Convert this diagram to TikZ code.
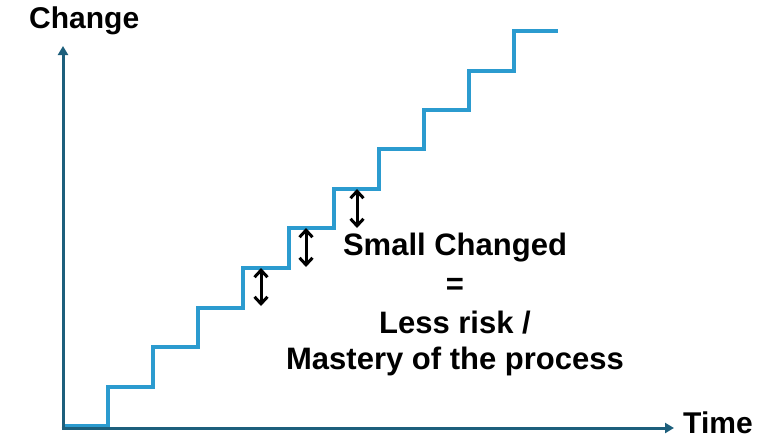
\documentclass[tikz,border=0pt]{standalone}
\usepackage{fontspec}
\setmainfont{Liberation Sans}
\usetikzlibrary{arrows.meta}
\definecolor{axiscol}{HTML}{1D5F7C}
\definecolor{stepcol}{HTML}{2B9BCF}
\tikzset{
  axisline/.style={draw=axiscol, line width=3pt, -{Triangle[length=9pt,width=10pt]}},
  stairline/.style={draw=stepcol, line width=3.2pt, line join=miter},
  riskarrow/.style={draw=black, line width=3pt, {Straight Barb[length=7pt,width=13pt,line width=3pt]}-{Straight Barb[length=7pt,width=13pt,line width=3pt]}},
  bigtext/.style={font=\bfseries\fontsize{31}{37}\selectfont, inner sep=0pt, anchor=base},
  axislabel/.style={font=\bfseries\fontsize{30}{36}\selectfont, inner sep=0pt, anchor=base west}
}
\begin{document}
\begin{tikzpicture}[x=1pt,y=-1pt]
\useasboundingbox (0,0) rectangle (765,439);
% axes
\coordinate (origin) at (63,428);
\coordinate (ytip) at (63,46);
\coordinate (xtip) at (674,428);
% staircase
\draw[stairline] (63,426) -- (108,426) -- (108,387) -- (153,387) -- (153,347)
  -- (198,347) -- (198,308) -- (243,308) -- (243,268) -- (289,268) -- (289,228)
  -- (334,228) -- (334,189) -- (379,189) -- (379,149) -- (424,149) -- (424,110)
  -- (469,110) -- (469,71) -- (514,71) -- (514,31) -- (558,31);
\draw[axisline] (origin) -- (ytip);
\draw[axisline] ([xshift=-1.5pt]origin) -- (xtip);
% double arrows
\coordinate (a1t) at (261,268); \coordinate (a1b) at (261,306);
\coordinate (a2t) at (306,228); \coordinate (a2b) at (306,267);
\coordinate (a3t) at (357,189); \coordinate (a3b) at (357,228);
\draw[riskarrow] (a1t) -- (a1b);
\draw[riskarrow] (a2t) -- (a2b);
\draw[riskarrow] (a3t) -- (a3b);
% labels
\node[axislabel] (change) at (29,28) {Change};
\node[axislabel] (time) at (683,433) {Time};
\node[bigtext] (l1) at (455,255) {Small Changed};
\node[bigtext] (l2) at (455,294) {=};
\node[bigtext] (l3) at (455,333) {Less risk /};
\node[bigtext] (l4) at (455,369) {Mastery of the process};
\end{tikzpicture}
\end{document}
